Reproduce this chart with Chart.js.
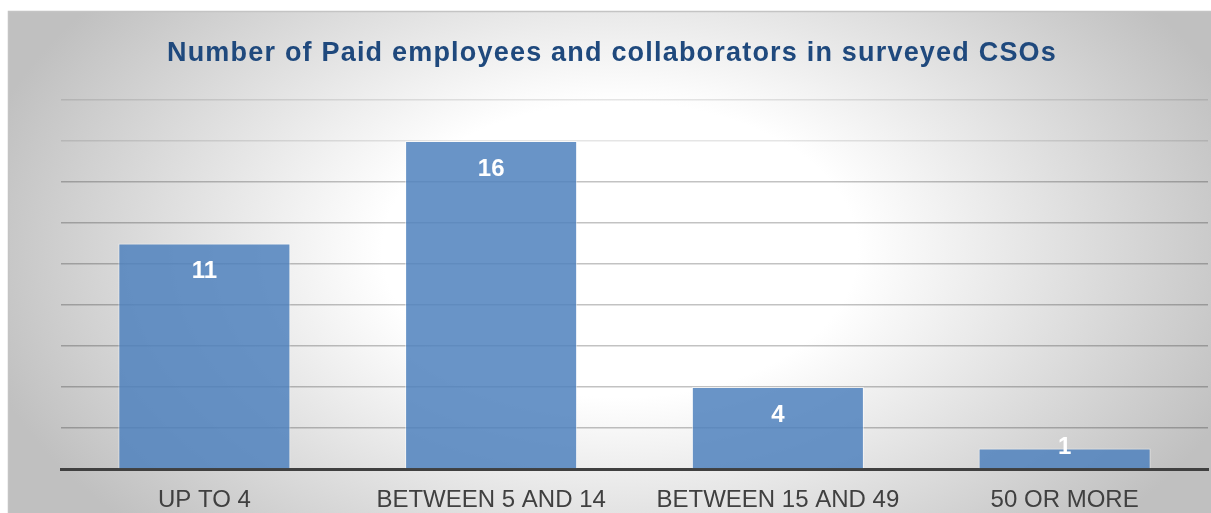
<!DOCTYPE html>
<html>
<head>
<meta charset="utf-8">
<script src="https://cdn.jsdelivr.net/npm/chart.js@4.4.1/dist/chart.umd.min.js"></script>
<style>
  html, body { margin: 0; padding: 0; background: #fff; }
  #wrap { width: 1211px; height: 513px; position: relative; }
</style>
</head>
<body>
<div id="wrap"><canvas id="staffChart"></canvas></div>
<script>
var chartTitle = 'Number of Paid employees and collaborators in surveyed CSOs';
var categories = ['UP TO 4', 'BETWEEN 5 AND 14', 'BETWEEN 15 AND 49', '50 OR MORE'];
var organisations = [11, 16, 4, 1];
var yTicks = [0, 2, 4, 6, 8, 10, 12, 14, 16, 18];

var FONT = '"Liberation Sans", Arial, sans-serif';

// grey panel with a soft white glow in the middle
var panelBackground = {
    id: 'panelBackground',
    beforeDraw: function (chart) {
        var ctx = chart.ctx;
        var x0 = 8, y0 = 11, w = chart.width - x0, h = chart.height - y0 + 2;
        ctx.save();
        ctx.beginPath();
        ctx.rect(x0, y0, w, h);
        ctx.clip();
        ctx.translate(620, 250);
        ctx.scale(1, 0.62);
        var g = ctx.createRadialGradient(0, 0, 0, 0, 0, 660);
        g.addColorStop(0, '#ffffff');
        g.addColorStop(0.36, '#ffffff');
        g.addColorStop(1, '#c0c0c0');
        ctx.fillStyle = g;
        ctx.fillRect(-700, -700, 1400, 1400);
        ctx.restore();
        ctx.save();
        ctx.strokeStyle = '#c4c4c4';
        ctx.lineWidth = 1.5;
        ctx.strokeRect(x0 + 0.5, y0 + 0.5, w + 4, h + 4);
        ctx.restore();
    },
    // title, slightly letter-spaced
    afterDraw: function (chart) {
        var ctx = chart.ctx;
        ctx.save();
        ctx.fillStyle = '#1f497d';
        ctx.font = 'bold 27px ' + FONT;
        ctx.letterSpacing = '1.2px';
        ctx.textAlign = 'center';
        ctx.textBaseline = 'alphabetic';
        ctx.fillText(chartTitle, 612, 61);
        ctx.restore();
    }
};

// value labels inside the top of each bar
var barValues = {
    id: 'barValues',
    afterDatasetsDraw: function (chart) {
        var ctx = chart.ctx;
        var meta = chart.getDatasetMeta(0);
        ctx.save();
        ctx.fillStyle = '#ffffff';
        ctx.font = 'bold 24px ' + FONT;
        ctx.textAlign = 'center';
        ctx.textBaseline = 'middle';
        meta.data.forEach(function (bar, i) {
            var y = Math.min(bar.y + 28, bar.base - 21);
            ctx.fillText(String(organisations[i]), bar.x, y);
        });
        ctx.restore();
    }
};

var staffCanvas = document.getElementById('staffChart').getContext('2d');
var staffChart = new Chart(staffCanvas, {
    type: 'bar',
    data: {
        labels: categories,
        datasets: [{
            label: 'CSOs',
            data: organisations,
            backgroundColor: 'rgba(79, 129, 189, 0.85)',
            borderColor: 'rgba(255, 255, 255, 0.55)',
            borderWidth: 1,
            categoryPercentage: 1,
            barPercentage: 0.6
        }]
    },
    options: {
        responsive: true,
        maintainAspectRatio: false,
        animation: false,
        layout: {
            padding: { left: 61, right: 3, top: 100, bottom: 0 }
        },
        plugins: {
            legend: { display: false },
            tooltip: { enabled: false },
            title: { display: false }
        },
        scales: {
            x: {
                grid: { display: false, drawTicks: false },
                border: { display: true, color: '#404040', width: 3 },
                ticks: {
                    color: '#404040',
                    padding: 17,
                    font: { family: FONT, size: 24 }
                },
                afterFit: function (axis) {
                    axis.height = 44;
                }
            },
            y: {
                min: 0,
                max: 18,
                afterBuildTicks: function (axis) {
                    axis.ticks = yTicks.map(function (v) { return { value: v }; });
                },
                border: { display: false },
                grid: {
                    drawTicks: false,
                    lineWidth: 1.5,
                    color: function (c) {
                        return c.tick && c.tick.value >= 16 ? 'rgba(0,0,0,0.1)' : 'rgba(0,0,0,0.24)';
                    }
                },
                ticks: { display: false }
            }
        }
    },
    plugins: [panelBackground, barValues]
});
</script>
</body>
</html>
